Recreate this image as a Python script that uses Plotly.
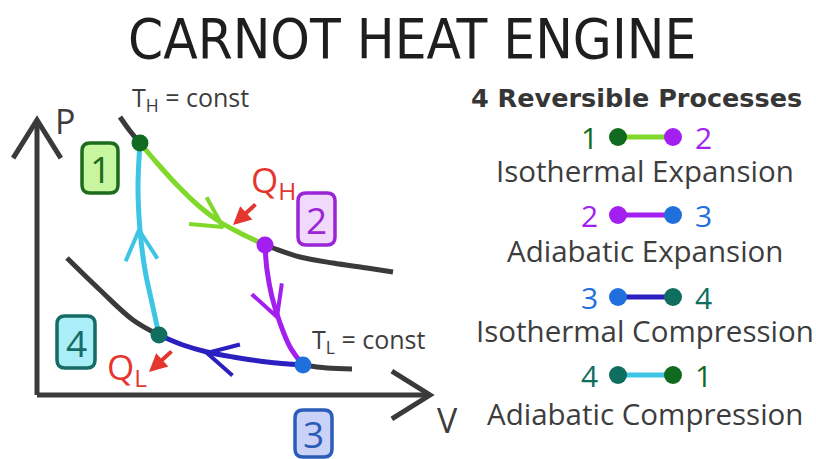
import numpy as np
import plotly.graph_objects as go

# ---------------- data (diagram units: V to the right, P upward) ----------------
state_labels = ["1", "2", "3", "4"]
state_V = [103, 228, 266, 122]
state_P = [252, 150, 30, 60]
state_colors = ["#106b20", "#a21ff0", "#1f6fdc", "#0f6e60"]

# processes
iso_hot_V = [103, 120, 140, 163, 183, 203, 228]
iso_hot_P = [252, 232, 210, 188, 173, 162, 150]
adia_exp_V = [228, 230, 235, 243, 253, 266]
adia_exp_P = [150, 125, 98, 72, 48, 30]
iso_cold_V = [266, 230, 196, 170, 146, 122]
iso_cold_P = [30, 33, 38, 43, 50, 60]
adia_comp_V = [122, 115, 108, 103, 101, 103]
adia_comp_P = [60, 92, 125, 165, 208, 252]

# isotherm extensions (black)
th_before_V = [83, 93, 103]
th_before_P = [278, 264, 252]
th_after_V = [228, 236, 263, 296, 330, 356]
th_after_P = [150, 147, 138, 132, 127, 123]
tl_before_V = [30, 63, 96, 122]
tl_before_P = [137, 105, 75, 60]
tl_after_V = [266, 290, 315]
tl_after_P = [30, 27, 26]

# direction-arrow positions on each process
arrow_V = [186, 240, 170, 102]
arrow_P = [168, 78, 42, 165]

process_colors = ["#7fd82a", "#a21ff0", "#2b1fc0", "#3ec5e6"]
process_names = ["Isothermal Expansion", "Adiabatic Expansion",
                 "Isothermal Compression", "Adiabatic Compression"]
process_from = [0, 1, 2, 3]
process_to = [1, 2, 3, 0]

V_AXIS_END = 393
P_AXIS_END = 275

# ---------------- figure ----------------
fig = go.Figure()
AX = "#3a3a3a"

def chevron(tip, d, length, half_deg):
    d = np.asarray(d, float)
    d = d / np.linalg.norm(d)
    back = -d
    out = []
    for s in (1, -1):
        a = np.radians(half_deg) * s
        r = np.array([back[0] * np.cos(a) - back[1] * np.sin(a),
                      back[0] * np.sin(a) + back[1] * np.cos(a)])
        out.append(np.asarray(tip) + length * r)
    return [out[0][0], tip[0], out[1][0]], [out[0][1], tip[1], out[1][1]]

# axes
fig.add_trace(go.Scatter(x=[0, 0], y=[0, P_AXIS_END], mode="lines",
                         line=dict(color=AX, width=5), hoverinfo="skip"))
fig.add_trace(go.Scatter(x=[0, V_AXIS_END], y=[0, 0], mode="lines",
                         line=dict(color=AX, width=5), hoverinfo="skip"))
cx, cy = chevron((0, P_AXIS_END), (0, 1), 45, 32)
fig.add_trace(go.Scatter(x=cx, y=cy, mode="lines", line=dict(color=AX, width=5),
                         hoverinfo="skip"))
cx, cy = chevron((V_AXIS_END, 0), (1, 0), 45, 32)
fig.add_trace(go.Scatter(x=cx, y=cy, mode="lines", line=dict(color=AX, width=5),
                         hoverinfo="skip"))

# black isotherm extensions
for vv, pp in [(th_before_V, th_before_P), (th_after_V, th_after_P),
               (tl_before_V, tl_before_P), (tl_after_V, tl_after_P)]:
    fig.add_trace(go.Scatter(x=vv, y=pp, mode="lines",
                             line=dict(color=AX, width=5, shape="spline"),
                             hoverinfo="skip"))

# processes
procs = [(iso_hot_V, iso_hot_P), (adia_exp_V, adia_exp_P),
         (iso_cold_V, iso_cold_P), (adia_comp_V, adia_comp_P)]
for i, (vv, pp) in enumerate(procs):
    fig.add_trace(go.Scatter(x=vv, y=pp, mode="lines",
                             line=dict(color=process_colors[i], width=5, shape="spline"),
                             hoverinfo="skip"))
    pts = np.column_stack([vv, pp]).astype(float)
    tip = np.array([arrow_V[i], arrow_P[i]], float)
    k = int(np.argmin(np.linalg.norm(pts - tip, axis=1)))
    k0 = max(k - 1, 0)
    k1 = min(k + 1, len(pts) - 1)
    d = pts[k1] - pts[k0]
    cx, cy = chevron(tip, d, 34, 28)
    fig.add_trace(go.Scatter(x=cx, y=cy, mode="lines",
                             line=dict(color=process_colors[i], width=4),
                             hoverinfo="skip"))

# state points
fig.add_trace(go.Scatter(x=state_V, y=state_P, mode="markers",
                         marker=dict(size=17, color=state_colors), hoverinfo="skip"))

# ---------------- legend column (right) ----------------
LEG_V0, LEG_V1 = 581, 636
row_P = [258, 180, 98, 20]
desc_P = [225, 145, 65, -18]
for i in range(4):
    a, b = process_from[i], process_to[i]
    fig.add_trace(go.Scatter(x=[LEG_V0, LEG_V1], y=[row_P[i], row_P[i]], mode="lines",
                             line=dict(color=process_colors[i], width=5), hoverinfo="skip"))
    fig.add_trace(go.Scatter(x=[LEG_V0, LEG_V1], y=[row_P[i], row_P[i]], mode="markers",
                             marker=dict(size=18, color=[state_colors[a], state_colors[b]]),
                             hoverinfo="skip"))
    fig.add_annotation(x=LEG_V0 - 29, y=row_P[i], text=state_labels[a], showarrow=False,
                       xanchor="center", yanchor="middle",
                       font=dict(family="Open Sans", size=30, color=state_colors[a]))
    fig.add_annotation(x=LEG_V1 + 30, y=row_P[i], text=state_labels[b], showarrow=False,
                       xanchor="center", yanchor="middle",
                       font=dict(family="Open Sans", size=30, color=state_colors[b]))
    fig.add_annotation(x=608, y=desc_P[i], text=process_names[i], showarrow=False,
                       xanchor="center", yanchor="middle",
                       font=dict(family="Open Sans", size=29.5, color="#3d3d3d"))

fig.add_annotation(x=599, y=297, text="<b>4 Reversible Processes</b>", showarrow=False,
                   xanchor="center", yanchor="middle",
                   font=dict(family="DejaVu Sans", size=25.5, color="#363636"))

# ---------------- number boxes ----------------
def rrect(x0, y0, x1, y1, r):
    return (f"M{x0+r},{y0} L{x1-r},{y0} Q{x1},{y0} {x1},{y0+r} "
            f"L{x1},{y1-r} Q{x1},{y1} {x1-r},{y1} L{x0+r},{y1} "
            f"Q{x0},{y1} {x0},{y1-r} L{x0},{y0+r} Q{x0},{y0} {x0+r},{y0} Z")

boxes = [  # x0, y0, x1, y1
    (45, 202, 81, 252),
    (261, 150, 298, 202),
    (258, -62, 295, -15),
    (20, 27, 58, 79),
]
box_fill = ["#c8f5a0", "#f0d9fb", "#cad3f7", "#aaeef8"]
box_line = ["#1d6b1d", "#9a25d6", "#2b5cb8", "#156b66"]
for i, (x0, y0, x1, y1) in enumerate(boxes):
    fig.add_shape(type="path", path=rrect(x0, y0, x1, y1, 8), xref="x", yref="y",
                  fillcolor=box_fill[i], line=dict(color=box_line[i], width=3.5), layer="above")
    fig.add_annotation(x=(x0 + x1) / 2, y=(y0 + y1) / 2, text=state_labels[i], showarrow=False,
                       xanchor="center", yanchor="middle",
                       font=dict(family="Open Sans", size=37, color=box_line[i]))

# ---------------- labels ----------------
RED = "#e5352f"
fig.add_annotation(x=196, y=170, ax=220, ay=192, xref="x", yref="y", axref="x", ayref="y",
                   text="", showarrow=True, arrowhead=2, arrowsize=0.9, arrowwidth=4,
                   arrowcolor=RED, standoff=0, startstandoff=0)
fig.add_annotation(x=112, y=23, ax=136, ay=45, xref="x", yref="y", axref="x", ayref="y",
                   text="", showarrow=True, arrowhead=2, arrowsize=0.9, arrowwidth=4,
                   arrowcolor=RED, standoff=0, startstandoff=0)
fig.add_annotation(x=212, y=214, text="Q<sub>H</sub>", showarrow=False, xanchor="left",
                   yanchor="middle", font=dict(family="Open Sans", size=35, color=RED))
fig.add_annotation(x=68, y=27, text="Q<sub>L</sub>", showarrow=False, xanchor="left",
                   yanchor="middle", font=dict(family="Open Sans", size=35, color=RED))
fig.add_annotation(x=93, y=297, text="T<sub>H</sub> = const", showarrow=False, xanchor="left",
                   yanchor="middle", font=dict(family="Open Sans", size=25, color="#3d3d3d"))
fig.add_annotation(x=273, y=55, text="T<sub>L</sub> = const", showarrow=False, xanchor="left",
                   yanchor="middle", font=dict(family="Open Sans", size=25, color="#3d3d3d"))
fig.add_annotation(x=28, y=274, text="P", showarrow=False, xanchor="center",
                   yanchor="middle", font=dict(family="Open Sans", size=34, color="#3d3d3d"))
fig.add_annotation(x=410, y=-25, text="V", showarrow=False, xanchor="center",
                   yanchor="middle", font=dict(family="Open Sans", size=34, color="#3d3d3d"))

fig.add_annotation(x=375, y=357, text="CARNOT HEAT ENGINE", showarrow=False, xanchor="center",
                   yanchor="middle",
                   font=dict(family="DejaVu Sans Condensed, Liberation Sans Narrow, Liberation Sans",
                             size=56, color="#1e1e1e"))

fig.update_layout(
    width=816, height=459, margin=dict(l=0, r=0, t=0, b=0),
    paper_bgcolor="white", plot_bgcolor="white", showlegend=False,
    xaxis=dict(range=[-37, 779], visible=False, fixedrange=True),
    yaxis=dict(range=[-64, 395], visible=False, fixedrange=True),
)
fig.write_html("out.html", config={"displayModeBar": False},
               post_script="document.body.style.margin='0';document.body.style.overflow='hidden';")
